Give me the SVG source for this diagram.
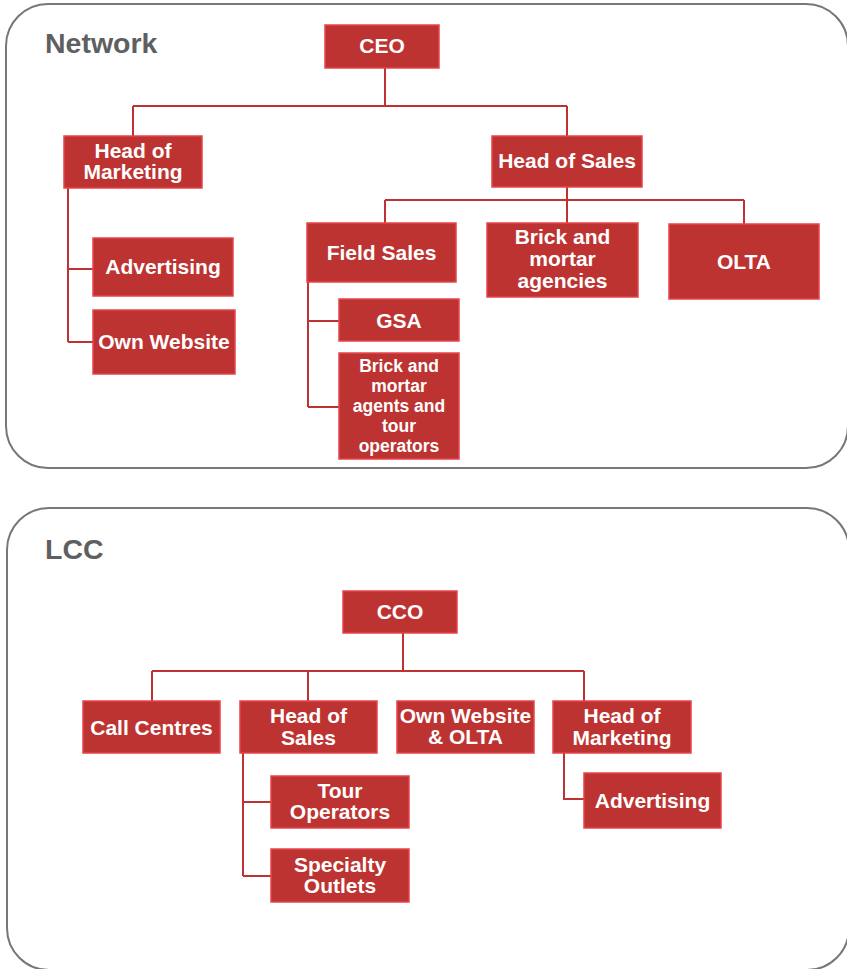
<svg xmlns="http://www.w3.org/2000/svg" width="847" height="969" viewBox="0 0 847 969">
<style>
.panel{fill:#fff;stroke:#777;stroke-width:2}
.title{font-family:"Liberation Sans",Arial,sans-serif;font-weight:bold;font-size:28.5px;fill:#5f5f5f}
.box{fill:#BD3331;stroke:#E8444B;stroke-width:1.5}
.t{font-family:"Liberation Sans",Arial,sans-serif;font-weight:bold;font-size:21px;fill:#fff;text-anchor:middle}
.s{font-size:17.5px}
.c{fill:none;stroke:#BE3331;stroke-width:2}
</style>
<rect width="847" height="969" fill="#fff"/>
<rect class="panel" x="6" y="4" width="842" height="464" rx="42" ry="42"/>
<text class="title" x="45" y="53">Network</text>
<rect class="panel" x="7" y="508" width="842" height="462" rx="42" ry="42"/>
<text class="title" x="45" y="559">LCC</text>
<g id="connectors">
<path class="c" d="M385,68 V106 M133,106 H567 M133,106 V136 M567,106 V136"/>
<path class="c" d="M567,187 V200 M385,200 H744 M385,200 V223 M567,200 V223 M744,200 V224"/>
<path class="c" d="M308,282 V407 M308,321 H339 M308,407 H339"/>
<path class="c" d="M68,188 V342 M68,269 H93 M68,342 H93"/>
<path class="c" d="M403,633 V671 M152,671 H584 M152,671 V701 M308,671 V701 M584,671 V701"/>
<path class="c" d="M243,753 V876 M243,802 H271 M243,876 H271"/>
<path class="c" d="M564,753 V799 H584"/>
</g>
<g id="ceo"><rect class="box" x="325" y="25" width="114" height="43"/><text class="t" x="382" y="53">CEO</text></g>
<g id="head-marketing-n"><rect class="box" x="64" y="136" width="138" height="52"/><text class="t" x="133" y="158">Head of</text><text class="t" x="133" y="179">Marketing</text></g>
<g id="head-sales-n"><rect class="box" x="492" y="136" width="150" height="51"/><text class="t" x="567" y="168">Head of Sales</text></g>
<g id="field-sales"><rect class="box" x="307" y="223" width="149" height="59"/><text class="t" x="381.5" y="260">Field Sales</text></g>
<g id="bm-agencies"><rect class="box" x="487" y="223" width="151" height="74"/><text class="t" x="562.5" y="244">Brick and</text><text class="t" x="562.5" y="266">mortar</text><text class="t" x="562.5" y="288">agencies</text></g>
<g id="olta"><rect class="box" x="669" y="224" width="150" height="75"/><text class="t" x="744" y="269">OLTA</text></g>
<g id="gsa"><rect class="box" x="339" y="299" width="120" height="42"/><text class="t" x="399" y="328">GSA</text></g>
<g id="bm-agents"><rect class="box" x="339" y="353" width="120" height="106"/><text class="t s" x="399" y="372">Brick and</text><text class="t s" x="399" y="392">mortar</text><text class="t s" x="399" y="412">agents and</text><text class="t s" x="399" y="432">tour</text><text class="t s" x="399" y="452">operators</text></g>
<g id="advertising-n"><rect class="box" x="93" y="238" width="140" height="58"/><text class="t" x="163" y="274">Advertising</text></g>
<g id="own-website-n"><rect class="box" x="93" y="310" width="142" height="64"/><text class="t" x="164" y="349">Own Website</text></g>
<g id="cco"><rect class="box" x="343" y="591" width="114" height="42"/><text class="t" x="400" y="619">CCO</text></g>
<g id="call-centres"><rect class="box" x="83" y="701" width="137" height="52"/><text class="t" x="151.5" y="735">Call Centres</text></g>
<g id="head-sales-l"><rect class="box" x="240" y="701" width="137" height="52"/><text class="t" x="308.5" y="723">Head of</text><text class="t" x="308.5" y="745">Sales</text></g>
<g id="own-website-olta"><rect class="box" x="397" y="701" width="137" height="52"/><text class="t" x="465.5" y="723">Own Website</text><text class="t" x="465.5" y="744">&amp; OLTA</text></g>
<g id="head-marketing-l"><rect class="box" x="553" y="701" width="138" height="52"/><text class="t" x="622" y="723">Head of</text><text class="t" x="622" y="745">Marketing</text></g>
<g id="advertising-l"><rect class="box" x="584" y="773" width="137" height="55"/><text class="t" x="652.5" y="808">Advertising</text></g>
<g id="tour-operators"><rect class="box" x="271" y="776" width="138" height="52"/><text class="t" x="340" y="798">Tour</text><text class="t" x="340" y="819">Operators</text></g>
<g id="specialty-outlets"><rect class="box" x="271" y="849" width="138" height="53"/><text class="t" x="340" y="872">Specialty</text><text class="t" x="340" y="893">Outlets</text></g>
</svg>
